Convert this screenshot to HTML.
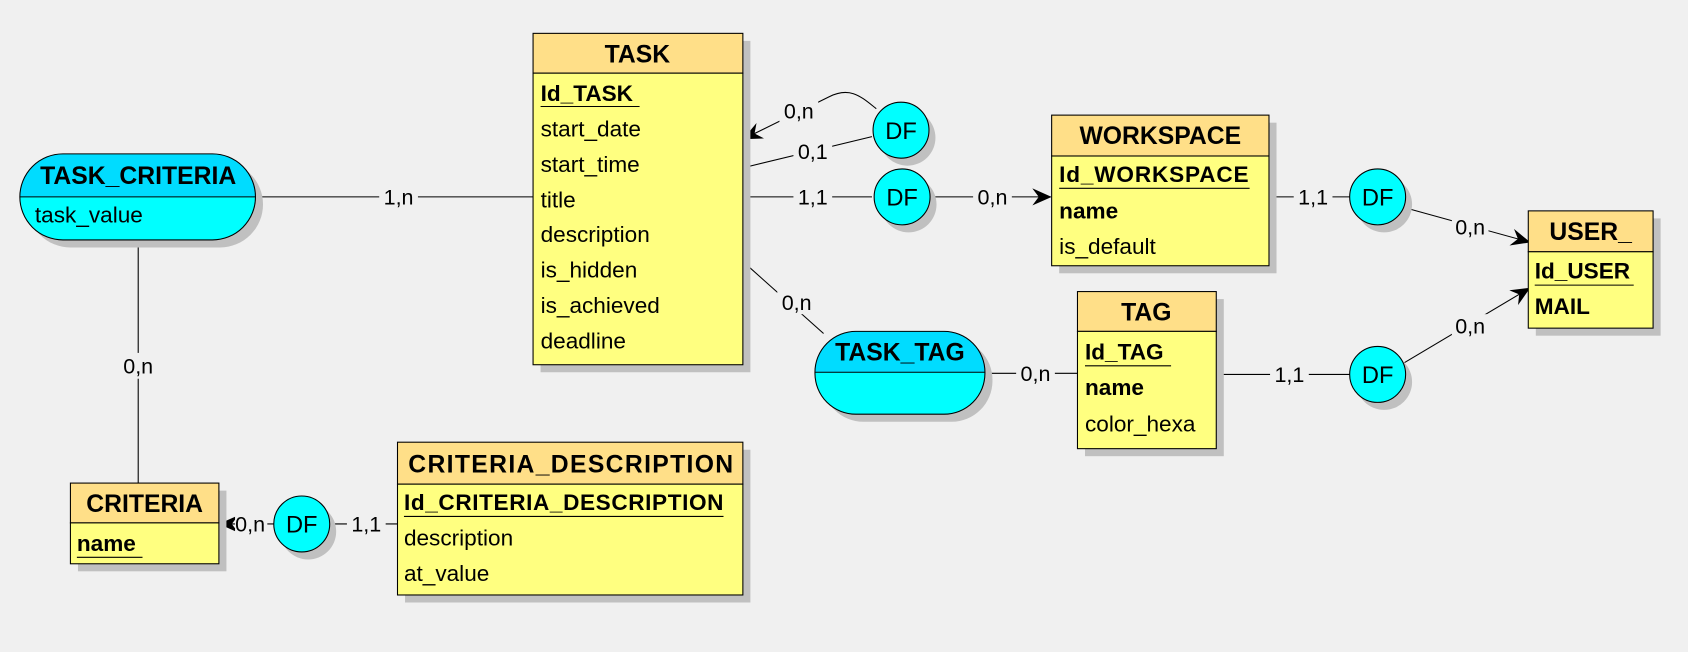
<!DOCTYPE html>
<html><head><meta charset="utf-8"><style>
html,body{margin:0;padding:0;background:#f0f0f0;}
svg{display:block}
text{font-family:"Liberation Sans",sans-serif;fill:#000}
</style></head><body>
<svg width="1688" height="652" viewBox="0 0 1568 606" xmlns="http://www.w3.org/2000/svg">
<defs>
<marker id="ah" markerWidth="18" markerHeight="16" refX="17" refY="8" orient="auto" markerUnits="userSpaceOnUse">
<path d="M0,0 L18,8 L0,16 L6,8 Z" fill="#000"/>
</marker>
</defs>
<rect width="1568" height="606" fill="#f0f0f0"/>

<g stroke="#000" stroke-width="1" fill="none">
<line x1="237" y1="183" x2="495" y2="183"/>
<line x1="128" y1="223" x2="128" y2="449"/>
<line x1="254" y1="487" x2="204" y2="487" marker-end="url(#ah)"/>
<line x1="306" y1="487" x2="369" y2="487"/>
<path d="M814,101 C800,90 790,80 770,90 L691,129" marker-end="url(#ah)"/>
<line x1="810" y1="127" x2="690" y2="156"/>
<line x1="690" y1="183" x2="810" y2="183"/>
<line x1="866" y1="183" x2="976" y2="183" marker-end="url(#ah)"/>
<line x1="690" y1="243" x2="765" y2="310"/>
<line x1="915" y1="347" x2="1001" y2="347"/>
<line x1="1179" y1="183" x2="1254" y2="183"/>
<line x1="1305" y1="193" x2="1421" y2="225" marker-end="url(#ah)"/>
<line x1="1130" y1="348" x2="1254" y2="348"/>
<line x1="1305" y1="337" x2="1421" y2="268" marker-end="url(#ah)"/>
</g>

<g font-size="20" text-anchor="middle">
<rect x="352" y="172" width="36" height="22" fill="#f0f0f0"/><text x="370" y="190">1,n</text>
<rect x="110" y="328" width="36" height="24" fill="#f0f0f0"/><text x="128" y="347">0,n</text>
<rect x="218" y="476" width="30" height="22" fill="#f0f0f0"/><text x="232" y="494">0,n</text>
<rect x="322" y="476" width="36" height="22" fill="#f0f0f0"/><text x="340" y="494">1,1</text>
<rect x="724" y="92" width="36" height="22" fill="#f0f0f0"/><text x="742" y="110">0,n</text>
<rect x="737" y="130" width="36" height="22" fill="#f0f0f0"/><text x="755" y="148">0,1</text>
<rect x="737" y="172" width="36" height="22" fill="#f0f0f0"/><text x="755" y="190">1,1</text>
<rect x="904" y="172" width="36" height="22" fill="#f0f0f0"/><text x="922" y="190">0,n</text>
<rect x="722" y="270" width="36" height="22" fill="#f0f0f0"/><text x="740" y="288">0,n</text>
<rect x="944" y="336" width="36" height="22" fill="#f0f0f0"/><text x="962" y="354">0,n</text>
<rect x="1202" y="172" width="36" height="22" fill="#f0f0f0"/><text x="1220" y="190">1,1</text>
<rect x="1180" y="337" width="36" height="22" fill="#f0f0f0"/><text x="1198" y="355">1,1</text>
<rect x="1349" y="200" width="34" height="22" fill="#f0f0f0"/><text x="1366" y="218">0,n</text>
<rect x="1349" y="292" width="34" height="22" fill="#f0f0f0"/><text x="1366" y="310">0,n</text>
</g>

<g>
<circle cx="843" cy="128" r="26" fill="#c0c0c0"/><circle cx="837" cy="121" r="26" fill="#00ffff" stroke="#000"/><text x="837" y="129" font-size="22" text-anchor="middle">DF</text>
<circle cx="844" cy="190" r="26" fill="#c0c0c0"/><circle cx="838" cy="183" r="26" fill="#00ffff" stroke="#000"/><text x="838" y="191" font-size="22" text-anchor="middle">DF</text>
<circle cx="1286" cy="190" r="26" fill="#c0c0c0"/><circle cx="1280" cy="183" r="26" fill="#00ffff" stroke="#000"/><text x="1280" y="191" font-size="22" text-anchor="middle">DF</text>
<circle cx="1286" cy="355" r="26" fill="#c0c0c0"/><circle cx="1280" cy="348" r="26" fill="#00ffff" stroke="#000"/><text x="1280" y="356" font-size="22" text-anchor="middle">DF</text>
<circle cx="286" cy="494" r="26" fill="#c0c0c0"/><circle cx="280" cy="487" r="26" fill="#00ffff" stroke="#000"/><text x="280" y="495" font-size="22" text-anchor="middle">DF</text>
</g>

<rect x="25" y="150" width="219" height="80" rx="40" fill="#c0c0c0"/>
<path d="M58,143 H197 A40,40 0 0 1 237,183 H18 A40,40 0 0 1 58,143 Z" fill="#00dcff"/>
<path d="M18,183 H237 A40,40 0 0 1 197,223 H58 A40,40 0 0 1 18,183 Z" fill="#00ffff"/>
<rect x="18" y="143" width="219" height="80" rx="40" fill="none" stroke="#000"/>
<line x1="18" y1="183" x2="237" y2="183" stroke="#000"/>
<text x="128" y="171" font-size="23" font-weight="bold" text-anchor="middle">TASK_CRITERIA</text>
<text x="32" y="207" font-size="21">task_value</text>

<rect x="764" y="315" width="158" height="77" rx="38" fill="#c0c0c0"/>
<path d="M796,308 H877 A38,38 0 0 1 915,346 H757 A38,38 0 0 1 796,308 Z" fill="#00dcff"/>
<path d="M757,346 H915 A38,38 0 0 1 877,385 H796 A38,38 0 0 1 757,346 Z" fill="#00ffff"/>
<rect x="757" y="308" width="158" height="77" rx="38" fill="none" stroke="#000"/>
<line x1="757" y1="346" x2="915" y2="346" stroke="#000"/>
<text x="836" y="335" font-size="23" font-weight="bold" text-anchor="middle">TASK_TAG</text>

<g>
<rect x="502" y="38" width="195" height="308" fill="#c0c0c0"/>
<rect x="495" y="31" width="195" height="37" fill="#ffdf88" stroke="#000"/>
<rect x="495" y="68" width="195" height="271" fill="#ffff80" stroke="#000"/>
<text x="592" y="58" font-size="23" font-weight="bold" text-anchor="middle">TASK</text>
<g font-size="21">
<text x="502" y="94" font-weight="bold">Id_TASK</text><line x1="502" y1="99" x2="594" y2="99" stroke="#000"/>
<text x="502" y="127">start_date</text>
<text x="502" y="160">start_time</text>
<text x="502" y="193">title</text>
<text x="502" y="225">description</text>
<text x="502" y="258">is_hidden</text>
<text x="502" y="291">is_achieved</text>
<text x="502" y="324">deadline</text>
</g>

<rect x="984" y="114" width="202" height="140" fill="#c0c0c0"/>
<rect x="977" y="107" width="202" height="38" fill="#ffdf88" stroke="#000"/>
<rect x="977" y="145" width="202" height="102" fill="#ffff80" stroke="#000"/>
<text x="1078" y="134" font-size="23" font-weight="bold" text-anchor="middle">WORKSPACE</text>
<g font-size="21">
<text x="984" y="169" font-weight="bold" textLength="176">Id_WORKSPACE</text><line x1="984" y1="175" x2="1161" y2="175" stroke="#000"/>
<text x="984" y="203" font-weight="bold">name</text>
<text x="984" y="236">is_default</text>
</g>

<rect x="1427" y="203" width="116" height="109" fill="#c0c0c0"/>
<rect x="1420" y="196" width="116" height="38" fill="#ffdf88" stroke="#000"/>
<rect x="1420" y="234" width="116" height="71" fill="#ffff80" stroke="#000"/>
<text x="1478" y="223" font-size="23" font-weight="bold" text-anchor="middle">USER_</text>
<g font-size="21">
<text x="1426" y="259" font-weight="bold">Id_USER</text><line x1="1426" y1="265" x2="1518" y2="265" stroke="#000"/>
<text x="1426" y="292" font-weight="bold">MAIL</text>
</g>

<rect x="1008" y="278" width="129" height="146" fill="#c0c0c0"/>
<rect x="1001" y="271" width="129" height="37" fill="#ffdf88" stroke="#000"/>
<rect x="1001" y="308" width="129" height="109" fill="#ffff80" stroke="#000"/>
<text x="1065" y="298" font-size="23" font-weight="bold" text-anchor="middle">TAG</text>
<g font-size="21">
<text x="1008" y="334" font-weight="bold">Id_TAG</text><line x1="1008" y1="340" x2="1088" y2="340" stroke="#000"/>
<text x="1008" y="367" font-weight="bold">name</text>
<text x="1008" y="401">color_hexa</text>
</g>

<rect x="72" y="456" width="138" height="75" fill="#c0c0c0"/>
<rect x="65" y="449" width="138" height="37" fill="#ffdf88" stroke="#000"/>
<rect x="65" y="486" width="138" height="38" fill="#ffff80" stroke="#000"/>
<text x="134" y="476" font-size="23" font-weight="bold" text-anchor="middle">CRITERIA</text>
<text x="71" y="512" font-size="21" font-weight="bold">name</text><line x1="71" y1="518" x2="132" y2="518" stroke="#000"/>

<rect x="376" y="418" width="321" height="142" fill="#c0c0c0"/>
<rect x="369" y="411" width="321" height="39" fill="#ffdf88" stroke="#000"/>
<rect x="369" y="450" width="321" height="103" fill="#ffff80" stroke="#000"/>
<text x="530" y="439" font-size="23" font-weight="bold" text-anchor="middle" textLength="302">CRITERIA_DESCRIPTION</text>
<g font-size="21">
<text x="375" y="474" font-weight="bold" textLength="297">Id_CRITERIA_DESCRIPTION</text><line x1="375" y1="480" x2="672" y2="480" stroke="#000"/>
<text x="375" y="507">description</text>
<text x="375" y="540">at_value</text>
</g>
</g>
</svg>
</body></html>
